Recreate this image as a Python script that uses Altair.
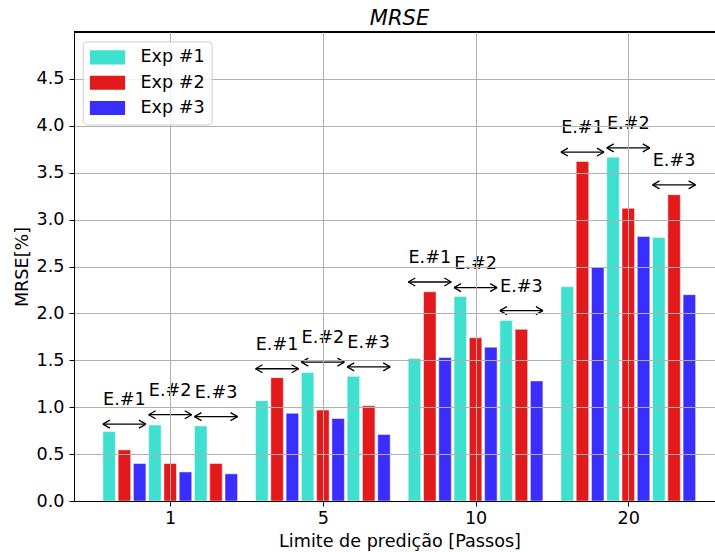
import altair as alt
import pandas as pd

FONT = "DejaVu Sans"
FS = 17.6

groups = ["1", "5", "10", "20"]
subgroups = ["E.#1", "E.#2", "E.#3"]
experiments = ["Exp #1", "Exp #2", "Exp #3"]
colors = ["#40E0D0", "#E31A1C", "#3A2EFF"]
title_text = "MRSE"

# values[group][subgroup]
exp1 = [[0.74, 0.81, 0.80], [1.07, 1.37, 1.33], [1.52, 2.18, 1.925], [2.285, 3.665, 2.81]]
exp2 = [[0.545, 0.40, 0.40], [1.315, 0.97, 1.015], [2.23, 1.74, 1.83], [3.62, 3.12, 3.265]]
exp3 = [[0.40, 0.31, 0.29], [0.935, 0.88, 0.71], [1.53, 1.64, 1.28], [2.49, 2.82, 2.20]]

# height of the double arrows over each subgroup
arrow_y = [[0.82, 0.92, 0.90], [1.41, 1.48, 1.43], [2.335, 2.275, 2.03], [3.72, 3.765, 3.37]]

STEP = 0.1
HALF = 0.041

bar_rows = []
ann_rows = []
for gi, g in enumerate(groups):
    for si, s in enumerate(subgroups):
        for ei, vals in enumerate([exp1, exp2, exp3]):
            k = si * 3 + ei
            pos = gi + (k - 4) * STEP
            bar_rows.append(dict(group=g, sub=s, exp=experiments[ei],
                                 value=vals[gi][si], x0=pos - HALF, x1=pos + HALF))
        center = gi + (si * 3 + 1 - 4) * STEP
        ann_rows.append(dict(label=s, center=center, left=center - STEP - HALF,
                             right=center + STEP + HALF, y=arrow_y[gi][si]))

bars_df = pd.DataFrame(bar_rows)
ann_df = pd.DataFrame(ann_rows)

W, H = 641, 469
xs = alt.Scale(domain=[-0.63, 3.568], nice=False, zero=False)
ys = alt.Scale(domain=[0, 5], nice=False)

label_expr = "[" + ",".join("'%s'" % g for g in groups) + "][datum.value]"

x_axis = alt.Axis(values=list(range(len(groups))), labelExpr=label_expr,
                  title="Limite de predição [Passos]", grid=True,
                  gridColor="#b0b0b0", gridWidth=1, labelFontSize=FS, titleFontSize=FS,
                  titleFontWeight="normal", tickSize=5, labelPadding=3,
                  domainColor="black", tickColor="black", labelColor="black",
                  titleColor="black", titleX=325.5, titleY=45,
                  titleBaseline="alphabetic", labelFont=FONT, titleFont=FONT, zindex=1)
y_axis = alt.Axis(values=[i * 0.5 for i in range(10)], format=".1f", title="MRSE[%]",
                  grid=True, gridColor="#b0b0b0", gridWidth=1, labelFontSize=FS,
                  titleFontSize=FS, titleFontWeight="normal", tickSize=5, labelPadding=5,
                  domainColor="black", tickColor="black", labelColor="black",
                  titleColor="black", titleX=-47, titleBaseline="alphabetic",
                  labelFont=FONT, titleFont=FONT, zindex=1)

rect_path = "M-1,-0.8 L3,-0.8 L3,0.8 L-1,0.8 Z"

bars = alt.Chart(bars_df).mark_bar(stroke="white", strokeWidth=0.8, strokeOpacity=0.6).encode(
    x=alt.X("x0:Q", scale=xs, axis=x_axis),
    x2="x1:Q",
    y=alt.Y("value:Q", scale=ys, axis=y_axis, stack=None),
    y2=alt.datum(0),
    color=alt.Color("exp:N", scale=alt.Scale(domain=experiments, range=colors),
                    legend=alt.Legend(orient="none", legendX=8.7, legendY=9.4, title=None,
                                      symbolType=rect_path, symbolSize=310,
                                      symbolStrokeWidth=0, symbolOpacity=1,
                                      labelFontSize=FS, labelFont=FONT, labelColor="black",
                                      labelOffset=32.7, padding=7, rowPadding=7.3,
                                      strokeColor="#cccccc", fillColor="rgba(255,255,255,0.8)",
                                      cornerRadius=4, zindex=2)),
)

arrows = alt.Chart(ann_df).mark_rule(color="black", strokeWidth=1.3).encode(
    x=alt.X("left:Q", scale=xs), x2="right:Q", y=alt.Y("y:Q", scale=ys)
)
left_heads = alt.Chart(ann_df).mark_point(
    shape="M0,0 L1,-0.57 M0,0 L1,0.57", size=196, filled=False,
    stroke="black", strokeWidth=1.3, opacity=1
).encode(x=alt.X("left:Q", scale=xs), y=alt.Y("y:Q", scale=ys))
right_heads = alt.Chart(ann_df).mark_point(
    shape="M0,0 L-1,-0.57 M0,0 L-1,0.57", size=196, filled=False,
    stroke="black", strokeWidth=1.3, opacity=1
).encode(x=alt.X("right:Q", scale=xs), y=alt.Y("y:Q", scale=ys))
labels = alt.Chart(ann_df).mark_text(
    fontSize=FS, font=FONT, baseline="alphabetic", align="center", dy=-19, color="black"
).encode(x=alt.X("center:Q", scale=xs), y=alt.Y("y:Q", scale=ys), text="label:N")

top_line = alt.Chart(ann_df).mark_rule(color="black", strokeWidth=1).encode(
    x=alt.value(0), x2=alt.value(W), y=alt.value(0)
)

title = alt.Chart(pd.DataFrame({"t": [title_text]})).mark_text(
    fontSize=21, font=FONT, fontStyle="italic", baseline="alphabetic", align="center",
    color="black"
).encode(x=alt.value(325.5), y=alt.value(-7), text="t:N")

chart = alt.layer(bars, arrows, left_heads, right_heads, labels, top_line, title).properties(
    width=W, height=H,
    autosize=alt.AutoSizeParams(type="none"),
    padding={"left": 74, "top": 32, "right": 0, "bottom": 51},
).configure_view(stroke=None).configure(font=FONT, background="white")

chart.save("out.html", embed_options={"renderer": "svg", "actions": False})
